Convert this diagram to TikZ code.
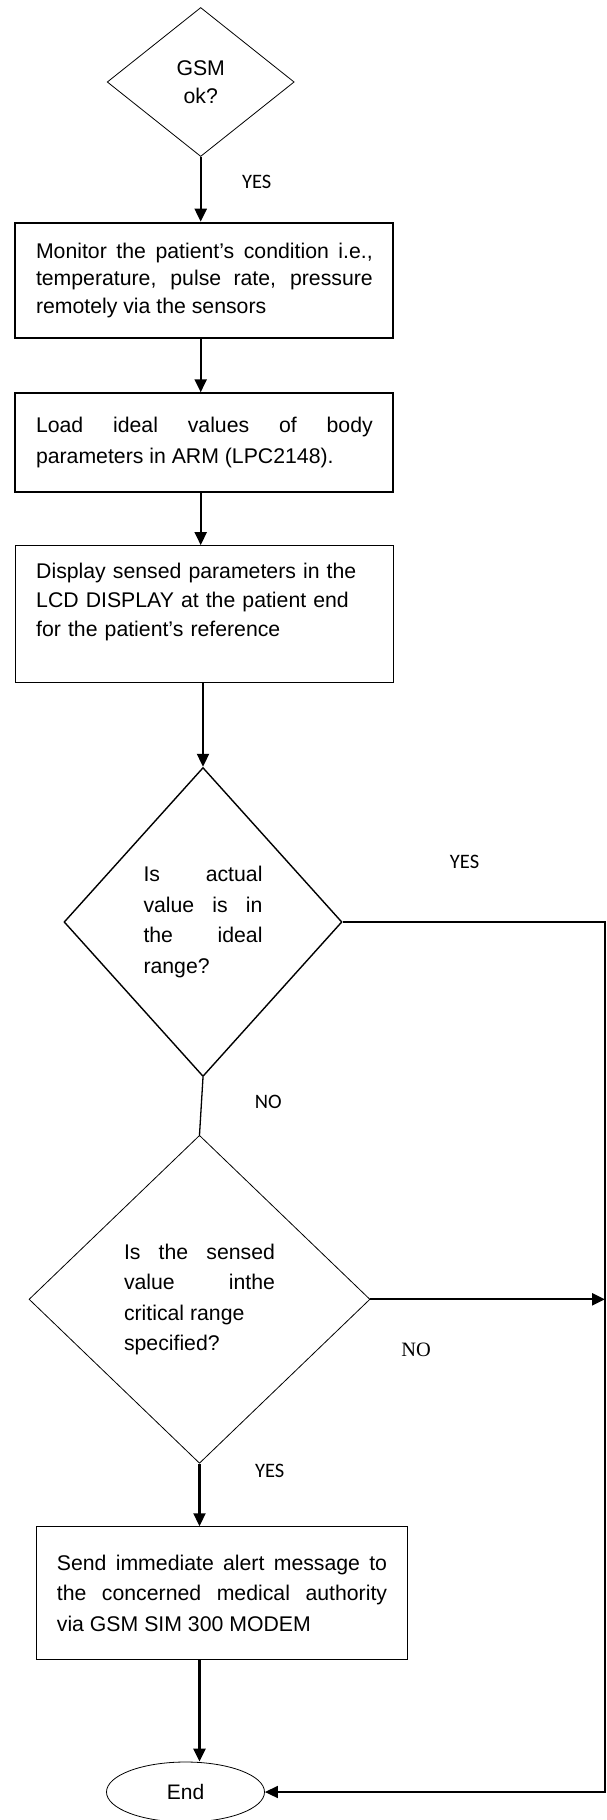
\documentclass[tikz,border=0pt]{standalone}
\usepackage{fontspec}
\setmainfont{Liberation Sans}
\newfontfamily\labelfont{Carlito}
\newfontfamily\nofont{Liberation Serif}
\usetikzlibrary{shapes.geometric}
\usetikzlibrary{arrows.meta}

\begin{document}
\begin{tikzpicture}[x=1pt, y=-1pt, > = {Triangle[length=13pt, width=12pt]},
	process/.style = {draw, rectangle, inner sep=0pt, align=justify, font=\fontsize{21.25}{30.5}\selectfont},
	decision/.style = {draw, diamond, inner sep=0pt, align=justify, font=\fontsize{21.25}{30.5}\selectfont},
	flow/.style = {->, line width=2.2pt},
	lbl/.style = {font=\labelfont\fontsize{20.5}{24}\selectfont}]
	\useasboundingbox (0,0) rectangle (607,1820);

	\node[decision, line width=0.8pt, align=center, minimum width=187, minimum height=149, font=\fontsize{21.25}{28}\selectfont] (gsm) at (200.7,82) {GSM\\ok?};
	\node[process, line width=2pt, minimum width=378, minimum height=115.6, text width=336.8, font=\fontsize{21.25}{27.5}\selectfont] (mon) at (204.4,280.5)
		{Monitor the patient's condition i.e.,\linebreak temperature, pulse rate, pressure\linebreak remotely via the sensors};
	\node[process, line width=2pt, minimum width=378, minimum height=98.4, text width=336.8] (load) at (204.4,442.5)
		{Load ideal values of body\linebreak parameters in ARM (LPC2148).};
	\node[process, line width=1.2pt, align=left, minimum width=378, minimum height=136.6, text width=336.8, font=\fontsize{21.25}{29}\selectfont] (disp) at (204.6,614)
		{Display sensed parameters in the\\LCD DISPLAY at the patient end\\for the patient's reference\\ \mbox{}};

	\node[decision, line width=1.4pt, minimum width=278, minimum height=309, text width=119] (ideal) at (203,922)
		{Is actual\linebreak value is in\linebreak the ideal\linebreak range?};
	\node[decision, line width=0.8pt, minimum width=341, minimum height=328, text width=151] (crit) at (199.5,1299.3)
		{Is the sensed\linebreak value inthe\linebreak critical range\\specified?};

	\node[process, line width=1pt, minimum width=370.5, minimum height=132.3, text width=330.2] (send) at (222,1592.9)
		{Send immediate alert message to\linebreak the concerned medical authority\linebreak via GSM SIM 300 MODEM};
	\node[draw, ellipse, line width=0.8pt, inner sep=0pt, minimum width=158, minimum height=60, font=\fontsize{21}{24}\selectfont] (theEnd) at (185.5,1792) {End};

	\coordinate (railEnd) at (605,1792); % right return line

	% main flow
	\draw[flow] (gsm.south) -- (gsm.south |- mon.north);
	\draw[flow] (mon.south -| gsm.south) -- (load.north -| gsm.south);
	\draw[flow] (load.south -| gsm.south) -- (disp.north -| gsm.south);
	\draw[flow, line width=2pt] (disp.south -| ideal.north) -- (ideal.north);
	\draw[line width=1.3pt] (ideal.south) -- (crit.north);
	\draw[flow] (crit.south) -- (crit.south |- send.north);
	\draw[flow] (send.south -| crit.south) -- (crit.south |- theEnd.north);

	% branches to the end
	\draw[flow, line width=1.6pt] (ideal.east) -| (railEnd) -- (theEnd.east);
	\draw[flow] (crit.east) -- (crit.east -| railEnd);

	\node[lbl] (yesA) at (256.7,182) {YES};
	\node[lbl] (yesB) at (464.6,861.7) {YES};
	\node[lbl] (noA) at (268.3,1102.3) {NO};
	\node[font=\nofont\fontsize{20.4}{24}\selectfont] (noB) at (416.2,1350) {NO};
	\node[lbl] (yesC) at (269.8,1470.7) {YES};
\end{tikzpicture}
\end{document}
